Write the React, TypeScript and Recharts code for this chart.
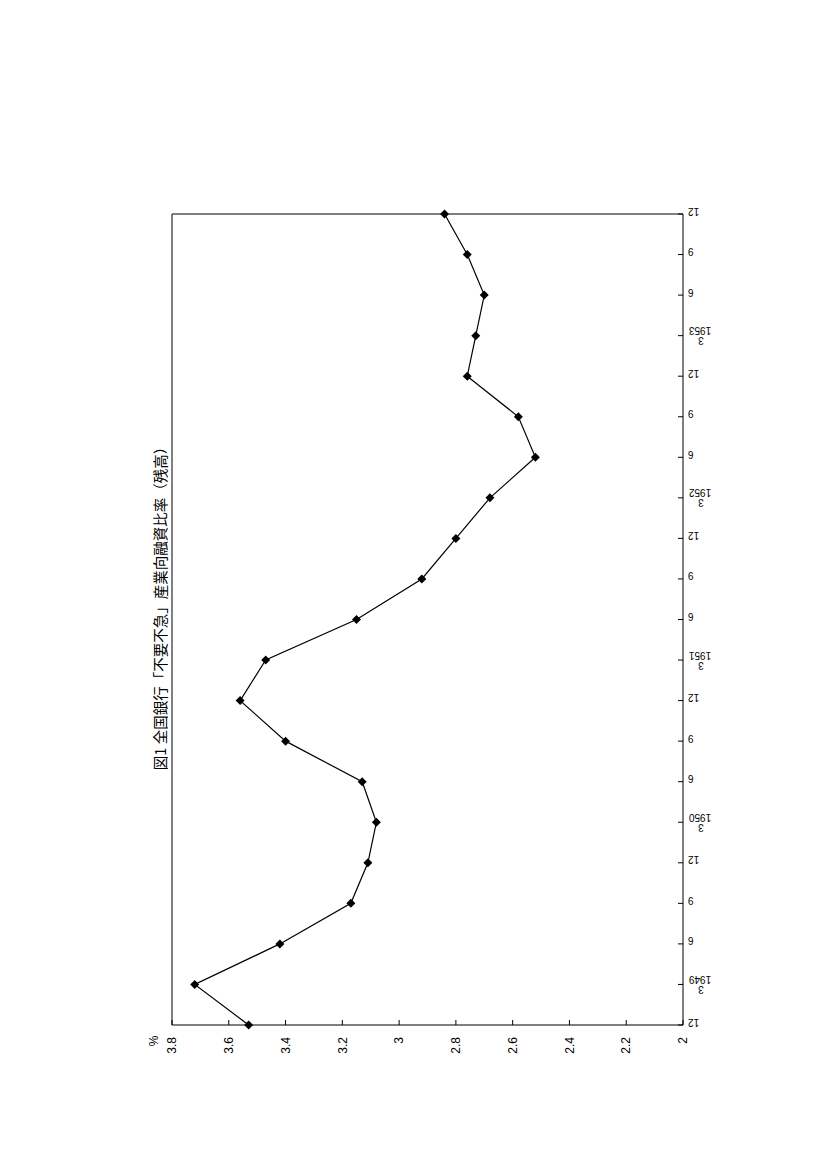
import React from 'react';
import { LineChart, Line, XAxis, YAxis } from 'recharts';

// quarterly observations, Dec 1948 .. Dec 1953
const periods = [
  '1948-12', '1949-03', '1949-06', '1949-09', '1949-12',
  '1950-03', '1950-06', '1950-09', '1950-12',
  '1951-03', '1951-06', '1951-09', '1951-12',
  '1952-03', '1952-06', '1952-09', '1952-12',
  '1953-03', '1953-06', '1953-09', '1953-12',
];
const monthLabels = ['12', '3', '6', '9', '12', '3', '6', '9', '12', '3', '6', '9', '12', '3', '6', '9', '12', '3', '6', '9', '12'];
const yearLabels = ['', '1949', '', '', '', '1950', '', '', '', '1951', '', '', '', '1952', '', '', '', '1953', '', '', ''];
const ratios = [3.53, 3.72, 3.42, 3.17, 3.11, 3.08, 3.13, 3.40, 3.56, 3.47, 3.15, 2.92, 2.80, 2.68, 2.52, 2.58, 2.76, 2.73, 2.70, 2.76, 2.84];
const valueTicks = [2, 2.2, 2.4, 2.6, 2.8, 3, 3.2, 3.4, 3.6, 3.8];

const TITLE = '図1 全国銀行「不要不急」産業向融資比率（残高）';
const NUM_FONT = '"Liberation Sans", Arial, sans-serif';

const data = periods.map((p, i) => ({ period: p, ratio: ratios[i] }));

// value axis sits at the bottom, labels read bottom-to-top, ticks point inward
const ValueTick = (props: any) => {
  const { x, y, payload } = props;
  const ty = y + 12;
  return (
    <g>
      <line x1={x} y1={y} x2={x} y2={y - 5} stroke="#000" />
      <text
        x={x}
        y={ty}
        transform={`rotate(-90, ${x}, ${ty})`}
        textAnchor="end"
        dy="0.35em"
        fontSize={12}
        fontFamily={NUM_FONT}
        fill="#000"
      >
        {payload.value}
      </text>
    </g>
  );
};

// category axis on the right, labels upside down
const PeriodTick = (props: any) => {
  const { x, y, payload } = props;
  const i = periods.indexOf(payload.value);
  const month = monthLabels[i];
  const year = yearLabels[i];
  const common = { fontSize: 10, fontFamily: NUM_FONT, fill: '#000', dy: '0.35em' };
  return (
    <g>
      <line x1={x} y1={y} x2={x - 5} y2={y} stroke="#000" />
      {year ? (
        <>
          <text {...common} x={x + 17} y={y - 5} transform={`rotate(180, ${x + 17}, ${y - 5})`} textAnchor="middle">
            {year}
          </text>
          <text {...common} x={x + 18} y={y + 5} transform={`rotate(180, ${x + 18}, ${y + 5})`} textAnchor="middle">
            {month}
          </text>
        </>
      ) : (
        <text {...common} x={x + 5} y={y - 3} transform={`rotate(180, ${x + 5}, ${y - 3})`} textAnchor="end">
          {month}
        </text>
      )}
    </g>
  );
};

const Diamond = (p: any) => {
  const { cx, cy, index } = p;
  const r = 4.5;
  return <path key={index} d={`M${cx},${cy - r}L${cx + r},${cy}L${cx},${cy + r}L${cx - r},${cy}Z`} fill="#000" />;
};

export default function App() {
  return (
    <div style={{ position: 'absolute', left: 0, top: 0, width: 827, height: 1170, background: '#fff' }}>
      <LineChart
        width={827}
        height={1170}
        data={data}
        layout="vertical"
        margin={{ top: 204, right: 104, bottom: 115, left: 162 }}
      >
        <XAxis
          xAxisId="value"
          type="number"
          domain={[2, 3.8]}
          ticks={valueTicks}
          reversed
          allowDataOverflow
          orientation="bottom"
          height={30}
          tickSize={0}
          tickMargin={0}
          tickLine={false}
          axisLine={{ stroke: '#000' }}
          tick={<ValueTick />}
          interval={0}
        />
        <XAxis
          xAxisId="frameTop"
          type="number"
          domain={[2, 3.8]}
          reversed
          orientation="top"
          height={10}
          tick={false}
          tickLine={false}
          axisLine={{ stroke: '#000' }}
        />
        <YAxis
          yAxisId="period"
          type="category"
          dataKey="period"
          reversed
          orientation="right"
          width={40}
          tickSize={0}
          tickMargin={0}
          tickLine={false}
          axisLine={{ stroke: '#000' }}
          tick={<PeriodTick />}
          interval={0}
        />
        <YAxis
          yAxisId="frameLeft"
          type="category"
          dataKey="period"
          reversed
          orientation="left"
          width={10}
          tick={false}
          tickLine={false}
          axisLine={{ stroke: '#000' }}
        />
        <Line
          xAxisId="value"
          yAxisId="period"
          dataKey="ratio"
          type="linear"
          stroke="#000"
          strokeWidth={1.2}
          dot={Diamond}
          activeDot={false}
          isAnimationActive={false}
        />
      </LineChart>
      <div
        style={{
          position: 'absolute',
          left: 160,
          top: 605,
          transform: 'translate(-50%, -50%) rotate(-90deg)',
          whiteSpace: 'nowrap',
          fontSize: 14.5,
          lineHeight: 1,
          fontFamily: '"Noto Sans CJK JP", sans-serif',
          color: '#000',
        }}
      >
        {TITLE}
      </div>
      <div
        style={{
          position: 'absolute',
          left: 154,
          top: 1041,
          transform: 'translate(-50%, -50%) rotate(-90deg)',
          whiteSpace: 'nowrap',
          fontSize: 12,
          lineHeight: 1,
          fontFamily: NUM_FONT,
          color: '#000',
        }}
      >
        %
      </div>
    </div>
  );
}
